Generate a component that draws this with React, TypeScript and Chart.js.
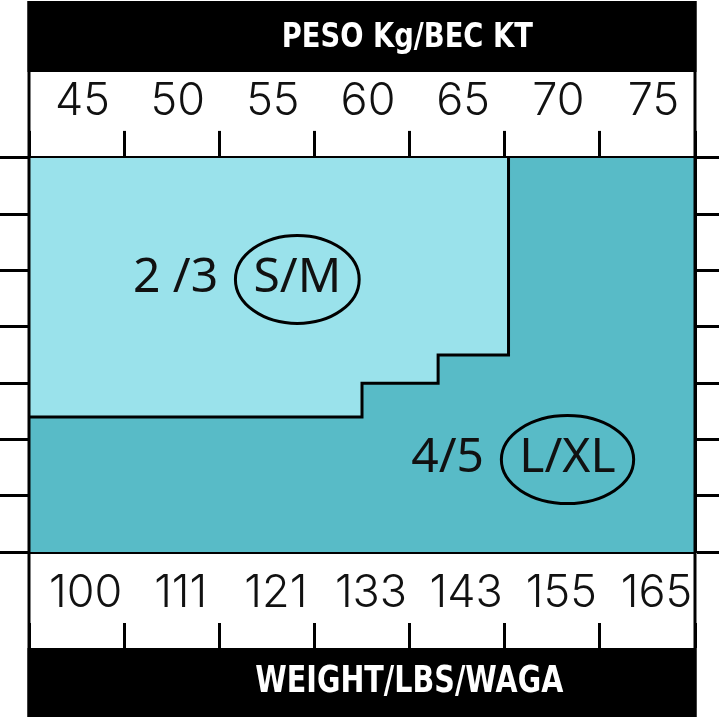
import React, { useEffect, useRef } from 'react';
import { Chart, registerables } from 'chart.js';

Chart.register(...registerables);

// ---- data ----
const kgLabels = ['45', '50', '55', '60', '65', '70', '75'];
const lbsLabels = ['100', '111', '121', '133', '143', '155', '165'];
const kgRange = [42.5, 77.5];
const heightRange = [150, 185];
const heightStep = 5;

// S/M region: its lower/right boundary (kg, cm); filled up to the top
const smKg = [42.5, 60, 60, 64, 64, 67.7, 67.7];
const smCm = [162, 162, 165, 165, 167.5, 167.5, 185];
// L/XL region: covers the rest of the chart
const lxlKg = [42.5, 77.5];
const lxlCm = [150, 150];

const euSizes = ['2 /3', '4/5'];
const intlSizes = ['S/M', 'L/XL'];
const euKg = [50.2, 64.5];
const intlKg = [56.6, 70.8];
const sizeCm = [174.3, 158.3];

const topTitle = 'PESO Kg/BEC KT';
const bottomTitle = 'WEIGHT/LBS/WAGA';

// ---- styles ----
const LIGHT = '#9AE2EB';
const DARK = '#58BBC7';
const INK = '#000000';
const NUM_FONT = { family: 'Inter', weight: 300 as any, size: 45, lineHeight: 1.22 };

const bandPlugin = {
  id: 'bands',
  beforeDraw(chart: any) {
    const { ctx, chartArea } = chart;
    const kg = chart.scales.kg;
    const lt = chart.scales.lbsTicks;
    const l = chartArea.left - 1.5;
    const r = chartArea.right + 1.5;
    ctx.save();
    ctx.fillStyle = '#ffffff';
    ctx.fillRect(0, 0, chart.width, chart.height);
    ctx.fillStyle = INK;
    ctx.fillRect(l, 1, r - l, kg.top - 1);
    ctx.fillRect(l, lt.bottom, r - l, chart.height - 2 - lt.bottom);
    ctx.restore();
  },
  afterDraw(chart: any) {
    const { ctx, chartArea } = chart;
    const kg = chart.scales.kg;
    ctx.save();
    ctx.strokeStyle = INK;
    ctx.lineWidth = 3;
    ctx.beginPath();
    ctx.moveTo(chartArea.left, 1);
    ctx.lineTo(chartArea.left, chart.height - 2);
    ctx.moveTo(chartArea.right, 1);
    ctx.lineTo(chartArea.right, chart.height - 2);
    ctx.stroke();
    const w = chartArea.right - chartArea.left;
    const cx = chartArea.left + 0.568 * w;
    ctx.fillStyle = '#ffffff';
    ctx.textAlign = 'center';
    ctx.textBaseline = 'alphabetic';
    ctx.font = 'bold 33px "DejaVu Sans"';
    ctx.fillText(topTitle, cx, kg.top - 25, 251);
    ctx.font = 'bold 37px "DejaVu Sans"';
    ctx.fillText(bottomTitle, cx + 2, chart.height - 2 - 25, 308);
    ctx.restore();
  },
};

const sizePlugin = {
  id: 'sizes',
  afterDatasetsDraw(chart: any) {
    const { ctx } = chart;
    const xs = chart.scales.x;
    const ys = chart.scales.y;
    ctx.save();
    ctx.fillStyle = '#111111';
    ctx.strokeStyle = INK;
    ctx.lineWidth = 3;
    ctx.font = '48px "Noto Sans"';
    ctx.textAlign = 'center';
    ctx.textBaseline = 'middle';
    euSizes.forEach((t, i) => {
      const y = ys.getPixelForValue(sizeCm[i]);
      ctx.fillText(t, xs.getPixelForValue(euKg[i]), y);
      const cx = xs.getPixelForValue(intlKg[i]);
      ctx.fillText(intlSizes[i], cx, y);
      const tw = ctx.measureText(intlSizes[i]).width;
      ctx.beginPath();
      ctx.ellipse(cx, y + 1, tw / 2 + 18, 44, 0, 0, Math.PI * 2);
      ctx.stroke();
    });
    ctx.restore();
  },
};

export default function App() {
  const ref = useRef<HTMLCanvasElement | null>(null);
  useEffect(() => {
    if (!ref.current) return;
    const yAxis = (position: string, tickLength: number) => ({
      type: 'linear',
      position,
      min: heightRange[0],
      max: heightRange[1],
      ticks: { display: false, stepSize: heightStep },
      grid: { drawOnChartArea: false, drawTicks: true, tickLength, tickWidth: 3, tickColor: INK },
      border: { color: INK, width: 3 },
    });
    const chart = new Chart(ref.current, {
      type: 'line',
      data: {
        datasets: [
          {
            label: 'S/M',
            data: smKg.map((x, i) => ({ x, y: smCm[i] })),
            xAxisID: 'x',
            yAxisID: 'y',
            fill: 'end',
            backgroundColor: LIGHT,
            borderColor: INK,
            borderWidth: 3,
            borderJoinStyle: 'miter',
            pointRadius: 0,
            tension: 0,
            order: 0,
          },
          {
            label: 'L/XL',
            data: lxlKg.map((x, i) => ({ x, y: lxlCm[i] })),
            xAxisID: 'x',
            yAxisID: 'y',
            fill: 'end',
            backgroundColor: DARK,
            borderColor: 'rgba(0,0,0,0)',
            borderWidth: 0,
            pointRadius: 0,
            tension: 0,
            order: 1,
          },
        ],
      } as any,
      options: {
        animation: false,
        responsive: false,
        events: [],
        layout: { padding: { top: 72, bottom: 71, left: 0, right: 0 } },
        plugins: { legend: { display: false }, tooltip: { enabled: false }, title: { display: false } },
        scales: {
          x: { type: 'linear', min: kgRange[0], max: kgRange[1], display: false },
          y: yAxis('left', 29),
          yRight: yAxis('right', 24),
          kg: {
            type: 'category',
            labels: kgLabels,
            position: 'top',
            offset: true,
            grid: { offset: true, drawOnChartArea: false, drawTicks: true, tickLength: 27, tickWidth: 3, tickColor: INK },
            border: { color: INK, width: 3 },
            ticks: { font: NUM_FONT, color: '#111111', padding: 2, labelOffset: 6, autoSkip: false, maxRotation: 0 },
          },
          lbs: {
            type: 'category',
            labels: lbsLabels,
            position: 'bottom',
            weight: 0,
            offset: true,
            grid: { offset: true, drawOnChartArea: false, drawTicks: true, tickLength: 12, tickColor: 'rgba(0,0,0,0)' },
            border: { color: INK, width: 3 },
            ticks: { font: NUM_FONT, color: '#111111', padding: 2, labelOffset: 9, autoSkip: false, maxRotation: 0 },
          },
          lbsTicks: {
            type: 'category',
            labels: lbsLabels,
            position: 'bottom',
            weight: 1,
            offset: true,
            grid: { offset: true, drawOnChartArea: false, drawTicks: true, tickLength: 25, tickWidth: 3, tickColor: INK },
            border: { display: false },
            ticks: { display: false },
          },
        },
      } as any,
      plugins: [bandPlugin, sizePlugin],
    });
    return () => chart.destroy();
  }, []);
  return (
    <div style={{ position: 'fixed', left: 0, top: 0, width: 719, height: 719, background: '#fff' }}>
      <canvas ref={ref} width={719} height={719} style={{ display: 'block', width: 719, height: 719 }} />
    </div>
  );
}
